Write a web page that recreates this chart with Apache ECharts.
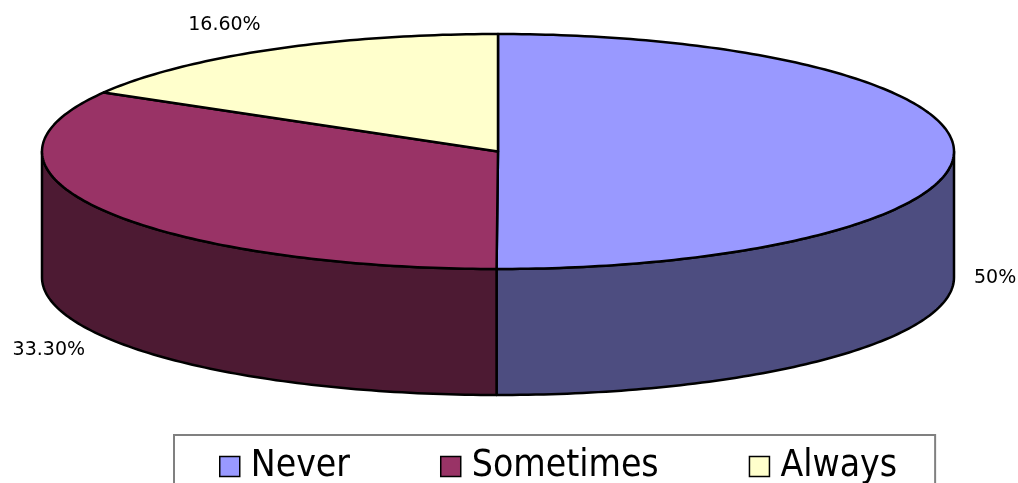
<!DOCTYPE html>
<html>
<head>
<meta charset="utf-8">
<style>
  html, body { margin: 0; padding: 0; background: #fff; }
  #chart { width: 1018px; height: 483px; }
</style>
<script src="https://cdn.jsdelivr.net/npm/echarts@6/dist/echarts.min.js"></script>
</head>
<body>
<div id="chart"></div>
<script>
const categories = ['Never', 'Sometimes', 'Always'];
const values = [50, 33.3, 16.6];
const labels = ['50%', '33.30%', '16.60%'];
const topColors = ['#9999FF', '#993366', '#FFFFCC'];
const sideColors = ['#4D4D80', '#4D1A33', '#80806A'];

// pie geometry (tilted ellipse + wall depth)
const cx = 498, cy = 151.5, rx = 456, ry = 117.5, depth = 126;

const total = values.reduce((a, b) => a + b, 0);
const starts = [];
let acc = 0;
values.forEach(v => { starts.push(acc / total * 360); acc += v; });

function pt(deg, dy) {
  const r = deg * Math.PI / 180;
  return [cx + rx * Math.sin(r), cy - ry * Math.cos(r) + dy];
}

function arc(a0, a1, dy) {
  const pts = [];
  const n = Math.max(2, Math.ceil((a1 - a0) / 1));
  for (let i = 0; i <= n; i++) pts.push(pt(a0 + (a1 - a0) * i / n, dy));
  return pts;
}

function renderSlice(idx) {
  return function (params, api) {
    const a0 = starts[idx];
    const a1 = a0 + api.value(0) / total * 360;
    const children = [];

    // front wall, only the part facing the viewer
    const s0 = Math.max(a0, 90), s1 = Math.min(a1, 270);
    if (s1 > s0) {
      const pts = arc(s0, s1, 0).concat(arc(s0, s1, depth).reverse());
      children.push({
        type: 'polygon', z2: 1,
        shape: { points: pts },
        style: { fill: sideColors[idx], stroke: '#000', lineWidth: 2.5, lineJoin: 'round' }
      });
    }

    // top face
    children.push({
      type: 'polygon', z2: 5,
      shape: { points: [[cx, cy]].concat(arc(a0, a1, 0)) },
      style: { fill: topColors[idx], stroke: '#000', lineWidth: 2.5, lineJoin: 'round' }
    });

    // data label
    const m = (a0 + a1) / 2 * Math.PI / 180;
    const s = Math.sin(m), c = Math.cos(m);
    children.push({
      type: 'text', z2: 10,
      x: cx + (rx + 20) * s,
      y: cy - (ry + 28) * c + (c < 0.01 ? depth : 0),
      style: {
        text: labels[idx],
        fill: '#000',
        font: '19px "DejaVu Sans"',
        align: s >= 0 ? 'left' : 'right',
        verticalAlign: 'middle'
      }
    });

    return { type: 'group', children };
  };
}

const chart = echarts.init(document.getElementById('chart'));

chart.setOption({
  animation: false,
  backgroundColor: '#fff',
  legend: {
    data: categories,
    left: 174,
    top: 435,
    padding: [13, 38, 20, 45],
    borderColor: '#808080',
    borderWidth: 2,
    itemWidth: 20,
    itemHeight: 20,
    itemGap: 90,
    icon: 'rect',
    itemStyle: { borderColor: '#000', borderWidth: 1.5 },
    textStyle: {
      fontFamily: 'DejaVu Sans Condensed',
      fontSize: 37,
      color: '#000',
      padding: [0, 0, 0, 6]
    }
  },
  series: categories.map((name, i) => ({
    type: 'custom',
    name: name,
    coordinateSystem: 'none',
    silent: true,
    itemStyle: { color: topColors[i] },
    renderItem: renderSlice(i),
    data: [[values[i]]]
  }))
});
</script>
</body>
</html>
